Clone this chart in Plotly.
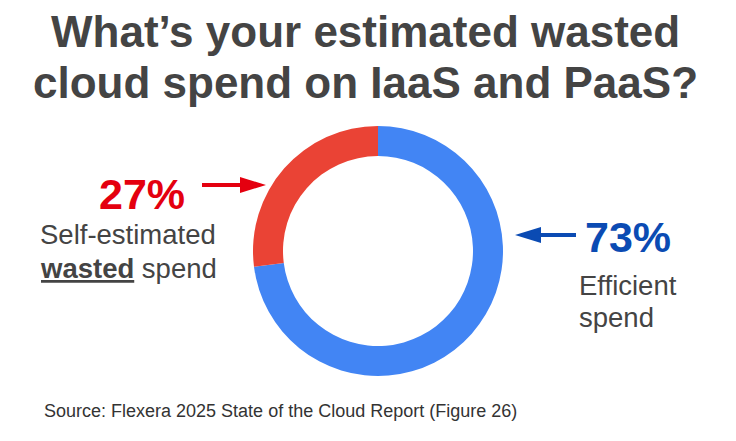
import plotly.graph_objects as go

W, H = 736, 441

categories = ["Self-estimated wasted spend", "Efficient spend"]
values = [27, 73]
slice_colors = ["#EA4335", "#4285F4"]
title_lines = ["What’s your estimated wasted", "cloud spend on IaaS and PaaS?"]
source_text = "Source: Flexera 2025 State of the Cloud Report (Figure 26)"

RED = "#E4000F"
BLUE = "#0B4BB3"
GRAY = "#444444"
FONT = "Liberation Sans, Arial, sans-serif"


def px(x):
    return x / W


def py(y):
    return 1 - y / H


cx, cy, r = 378, 251, 125

fig = go.Figure(go.Pie(
    labels=categories[::-1],
    values=values[::-1],
    sort=False,
    direction="clockwise",
    rotation=0,
    hole=0.76,
    marker=dict(colors=slice_colors[::-1], line=dict(width=0)),
    textinfo="none",
    hoverinfo="label+percent",
    showlegend=False,
    domain=dict(x=[px(cx - r), px(cx + r)], y=[py(cy + r), py(cy - r)]),
))

ann = []


def text(x, y, s, size, color, bold=False, xanchor="center"):
    ann.append(dict(
        x=px(x), y=py(y), xref="paper", yref="paper",
        text=f"<b>{s}</b>" if bold else s, showarrow=False,
        xanchor=xanchor, yanchor="middle",
        font=dict(family=FONT, size=size, color=color),
    ))


text(365, 31, title_lines[0], 44, GRAY, bold=True)
text(365, 82, title_lines[1], 44, GRAY, bold=True)

text(142, 194, f"{values[0]}%", 43, RED, bold=True)
text(128, 235, "Self-estimated", 27.5, GRAY)
text(128, 268, "<b><u>wasted</u></b> spend", 27.5, GRAY)

text(583, 237, f"{values[1]}%", 43, BLUE, bold=True, xanchor="left")
text(577, 285, "Efficient", 27.5, GRAY, xanchor="left")
text(577, 317, "spend", 27.5, GRAY, xanchor="left")

text(42, 411, source_text, 18, "#333333", xanchor="left")

shapes = []


def arrow(x_tail, x_tip, y, color):
    d = 1 if x_tip > x_tail else -1
    base = x_tip - d * 26
    shapes.append(dict(type="line", xref="paper", yref="paper",
                       x0=px(x_tail), x1=px(base + d * 2), y0=py(y), y1=py(y),
                       line=dict(color=color, width=4)))
    shapes.append(dict(type="path", xref="paper", yref="paper",
                       path=f"M {px(x_tip)},{py(y)} L {px(base)},{py(y - 8)} L {px(base)},{py(y + 8)} Z",
                       fillcolor=color, line=dict(width=0)))


arrow(202, 266, 185, RED)
arrow(576, 515, 235, BLUE)

fig.update_layout(
    width=W, height=H,
    margin=dict(l=0, r=0, t=0, b=0),
    paper_bgcolor="white", plot_bgcolor="white",
    annotations=ann, shapes=shapes,
)

fig.write_html("out.html")
